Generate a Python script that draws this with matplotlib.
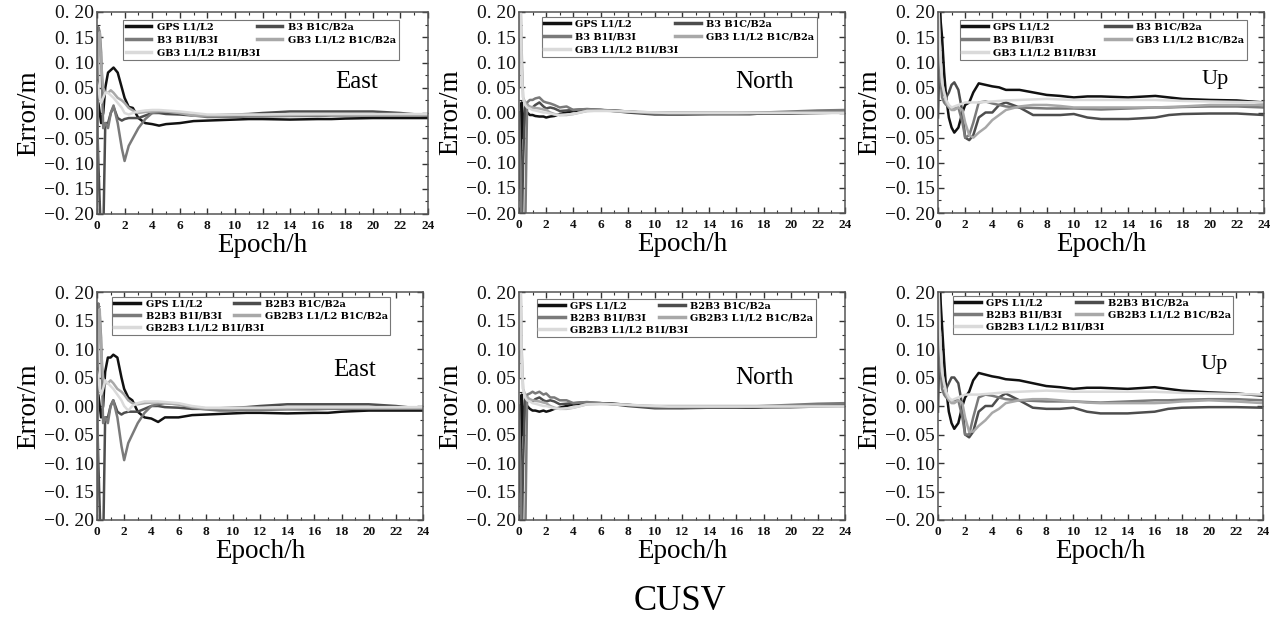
import matplotlib
matplotlib.use("Agg")
import matplotlib.pyplot as plt
from matplotlib.ticker import MultipleLocator, FixedLocator

# ---------------- data ----------------
T = [0, 0.1, 0.2, 0.3, 0.45, 0.6, 0.8, 1.0, 1.2, 1.5, 1.8, 2.0, 2.3, 2.6, 3.0, 3.5,
     4.0, 4.5, 5.0, 6.0, 7.0, 8.0, 9.0, 10, 11, 12, 14, 16, 17, 18, 20, 22, 24]

YTICKS = [-0.20, -0.15, -0.10, -0.05, 0.00, 0.05, 0.10, 0.15, 0.20]
YTICK_LABELS = ["\u22120. 20", "\u22120. 15", "\u22120. 10", "\u22120. 05", "0. 00",
                "0. 05", "0. 10", "0. 15", "0. 20"]
XTICKS = list(range(0, 25, 2))

LABELS_TOP = ["GPS L1/L2", "B3 B1C/B2a", "B3 B1I/B3I", "GB3 L1/L2 B1C/B2a", "GB3 L1/L2 B1I/B3I"]
LABELS_BOT = ["GPS L1/L2", "B2B3 B1C/B2a", "B2B3 B1I/B3I", "GB2B3 L1/L2 B1C/B2a", "GB2B3 L1/L2 B1I/B3I"]

# ---- top row: East ----
E1_GPS = [0.0, 0.02, 0.0, -0.02, 0.0, 0.05, 0.08, 0.085, 0.09, 0.08, 0.05, 0.03, 0.012, 0.01, -0.01, -0.02,
          -0.022, -0.025, -0.022, -0.02, -0.016, -0.015, -0.014, -0.013, -0.012, -0.012, -0.013, -0.012, -0.012, -0.011, -0.01, -0.01, -0.01]
E1_B1C = [0.0, -0.1, -0.18, -0.25, -0.25, -0.02, -0.02, 0.0, 0.012, -0.01, -0.015, -0.012, -0.01, -0.01, -0.01, -0.005,
          0.0, 0.0, -0.002, -0.003, -0.005, -0.005, -0.004, -0.003, -0.002, 0.0, 0.003, 0.003, 0.003, 0.003, 0.003, 0.0, -0.005]
E1_B1I = [-0.2, 0.17, 0.16, 0.12, -0.03, -0.02, -0.03, 0.0, 0.015, -0.02, -0.07, -0.095, -0.065, -0.05, -0.03, -0.012,
          0.0, 0.002, 0.003, 0.0, -0.005, -0.008, -0.008, -0.008, -0.007, -0.007, -0.006, -0.006, -0.005, -0.005, -0.005, -0.005, -0.005]
E1_GB1C = [0.07, 0.12, 0.16, 0.1, 0.05, 0.04, 0.04, 0.045, 0.04, 0.03, 0.025, 0.02, 0.01, 0.005, 0.0, 0.002,
           0.003, 0.004, 0.003, 0.0, -0.005, -0.005, -0.005, -0.004, -0.004, -0.004, -0.004, -0.003, -0.003, -0.003, -0.003, -0.003, -0.003]
E1_GB1I = [0.06, 0.05, 0.03, 0.02, 0.03, 0.04, 0.04, 0.035, 0.03, 0.02, 0.01, 0.0, -0.003, 0.0, 0.003, 0.005,
           0.006, 0.006, 0.005, 0.003, 0.0, -0.003, -0.003, -0.003, -0.003, -0.003, -0.002, -0.002, -0.002, -0.002, -0.002, -0.002, -0.002]

# ---- top row: North ----
N1_GPS = [0.0, -0.15, 0.02, -0.05, 0.01, 0.0, -0.005, -0.005, -0.007, -0.008, -0.008, -0.01, -0.008, -0.007, -0.003, 0.0,
          0.003, 0.004, 0.005, 0.005, 0.004, 0.002, 0.0, -0.002, -0.003, -0.003, -0.003, -0.003, -0.003, -0.002, -0.002, -0.001, 0.0]
N1_B1C = [0.0, -0.1, -0.25, -0.1, 0.02, 0.015, 0.01, 0.01, 0.015, 0.02, 0.012, 0.008, 0.01, 0.008, 0.003, 0.004,
          0.005, 0.006, 0.006, 0.005, 0.003, 0.0, -0.002, -0.004, -0.004, -0.004, -0.003, -0.003, -0.003, -0.002, -0.001, 0.001, 0.003]
N1_B1I = [0.0, -0.1, -0.25, -0.25, -0.25, 0.02, 0.025, 0.025, 0.028, 0.03, 0.022, 0.02, 0.018, 0.015, 0.01, 0.012,
          0.005, 0.006, 0.007, 0.005, 0.003, 0.002, 0.0, -0.002, -0.002, -0.002, -0.002, -0.002, -0.001, 0.0, 0.002, 0.004, 0.005]
N1_GB1C = [0.05, 0.25, 0.12, 0.03, 0.02, 0.015, 0.012, 0.01, 0.009, 0.008, 0.006, 0.005, 0.0, -0.003, -0.005, -0.005,
           -0.003, 0.0, 0.003, 0.004, 0.003, 0.002, 0.001, 0.0, 0.0, 0.0, 0.0, 0.0, 0.0, 0.0, 0.0, 0.0, 0.0]
N1_GB1I = [0.15, 0.25, 0.08, 0.03, 0.015, 0.01, 0.008, 0.005, 0.004, 0.002, 0.0, 0.0, -0.002, -0.004, -0.005, -0.004,
           -0.003, 0.0, 0.003, 0.003, 0.003, 0.002, 0.001, 0.0, -0.001, -0.001, -0.001, -0.001, -0.001, -0.001, -0.001, -0.001, -0.001]

# ---- top row: Up ----
U1_GPS = [0.1, 0.25, 0.18, 0.15, 0.08, 0.03, -0.01, -0.03, -0.04, -0.03, 0.0, 0.015, 0.02, 0.04, 0.058, 0.055,
          0.052, 0.05, 0.045, 0.045, 0.04, 0.035, 0.033, 0.03, 0.032, 0.032, 0.03, 0.033, 0.03, 0.027, 0.025, 0.024, 0.02]
U1_B1C = [-0.01, 0.1, 0.07, 0.05, 0.035, 0.03, 0.04, 0.055, 0.06, 0.045, 0.0, -0.05, -0.055, -0.045, -0.01, 0.0,
          0.0, 0.015, 0.02, 0.01, -0.005, -0.005, -0.005, -0.003, -0.01, -0.013, -0.013, -0.01, -0.005, -0.003, -0.002, -0.002, -0.005]
U1_B1I = [0.15, 0.1, 0.06, 0.03, 0.02, 0.015, 0.012, 0.01, 0.01, 0.01, -0.02, -0.05, -0.045, -0.02, 0.02, 0.022,
          0.018, 0.015, 0.012, 0.01, 0.009, 0.008, 0.008, 0.008, 0.007, 0.006, 0.008, 0.01, 0.01, 0.011, 0.012, 0.012, 0.01]
U1_GB1C = [0.25, 0.15, 0.1, 0.06, 0.04, 0.02, 0.01, 0.005, 0.005, 0.01, 0.005, -0.02, -0.045, -0.05, -0.04, -0.03,
           -0.015, -0.005, 0.005, 0.012, 0.015, 0.015, 0.013, 0.01, 0.01, 0.01, 0.01, 0.01, 0.011, 0.012, 0.015, 0.015, 0.015]
U1_GB1I = [0.25, 0.15, 0.1, 0.06, 0.04, 0.025, 0.015, 0.01, 0.012, 0.015, 0.018, 0.02, 0.02, 0.02, 0.02, 0.021,
           0.022, 0.023, 0.024, 0.025, 0.026, 0.027, 0.026, 0.025, 0.025, 0.025, 0.025, 0.025, 0.024, 0.023, 0.022, 0.021, 0.02]

# ---- bottom row: East ----
E2_GPS = [0.0, 0.02, 0.0, -0.02, 0.0, 0.06, 0.085, 0.085, 0.09, 0.085, 0.05, 0.03, 0.015, 0.01, -0.01, -0.02,
          -0.022, -0.028, -0.02, -0.02, -0.016, -0.015, -0.014, -0.013, -0.012, -0.012, -0.013, -0.012, -0.012, -0.01, -0.008, -0.008, -0.008]
E2_B1C = [0.0, -0.1, -0.18, -0.25, -0.25, -0.02, -0.02, 0.0, 0.01, -0.01, -0.015, -0.012, -0.01, -0.01, -0.01, -0.005,
          0.0, 0.0, -0.002, -0.003, -0.005, -0.005, -0.004, -0.003, -0.002, 0.0, 0.003, 0.003, 0.003, 0.003, 0.003, 0.0, -0.005]
E2_B1I = [-0.2, 0.18, 0.16, 0.12, -0.03, -0.02, -0.03, 0.0, 0.01, -0.02, -0.07, -0.095, -0.065, -0.05, -0.03, -0.012,
          0.0, 0.003, 0.005, 0.003, -0.003, -0.006, -0.008, -0.008, -0.007, -0.007, -0.006, -0.006, -0.005, -0.005, -0.005, -0.005, -0.005]
E2_GB1C = [0.07, 0.12, 0.17, 0.1, 0.05, 0.04, 0.04, 0.045, 0.04, 0.03, 0.025, 0.02, 0.01, 0.005, 0.003, 0.005,
           0.006, 0.006, 0.005, 0.003, -0.002, -0.004, -0.004, -0.004, -0.004, -0.004, -0.004, -0.003, -0.003, -0.003, -0.003, -0.003, -0.003]
E2_GB1I = [0.06, 0.05, 0.03, 0.02, 0.03, 0.045, 0.04, 0.035, 0.03, 0.02, 0.01, 0.0, -0.008, 0.0, 0.005, 0.008,
           0.008, 0.008, 0.007, 0.005, 0.0, -0.003, -0.003, -0.003, -0.003, -0.003, -0.002, -0.002, -0.002, -0.002, -0.002, -0.002, -0.002]

# ---- bottom row: North ----
N2_GPS = [0.0, -0.15, 0.02, -0.05, 0.01, 0.0, -0.005, -0.008, -0.008, -0.01, -0.008, -0.01, -0.008, -0.005, -0.003, 0.0,
          0.003, 0.004, 0.005, 0.005, 0.004, 0.002, 0.0, -0.002, -0.003, -0.003, -0.003, -0.003, -0.003, -0.002, -0.002, -0.001, 0.0]
N2_B1C = [0.0, -0.1, -0.25, -0.1, 0.02, 0.015, 0.01, 0.008, 0.012, 0.015, 0.01, 0.008, 0.01, 0.008, 0.003, 0.004,
          0.005, 0.006, 0.006, 0.005, 0.003, 0.0, -0.002, -0.004, -0.004, -0.004, -0.003, -0.003, -0.003, -0.002, -0.001, 0.001, 0.003]
N2_B1I = [0.0, -0.1, -0.25, -0.25, -0.25, 0.02, 0.022, 0.025, 0.022, 0.025, 0.02, 0.022, 0.015, 0.015, 0.01, 0.01,
          0.005, 0.006, 0.007, 0.005, 0.003, 0.002, 0.0, -0.002, -0.002, -0.002, -0.002, -0.002, -0.001, 0.0, 0.002, 0.004, 0.005]
N2_GB1C = [0.05, 0.25, 0.1, 0.03, 0.02, 0.015, 0.012, 0.01, 0.009, 0.008, 0.006, 0.005, 0.0, -0.003, -0.005, -0.005,
           -0.003, 0.0, 0.003, 0.004, 0.003, 0.002, 0.001, 0.0, 0.0, 0.0, 0.0, 0.0, 0.0, 0.0, 0.0, 0.0, 0.0]
N2_GB1I = [0.1, 0.25, 0.08, 0.03, 0.015, 0.01, 0.008, 0.005, 0.004, 0.002, 0.0, 0.0, -0.002, -0.004, -0.005, -0.004,
           -0.003, 0.0, 0.003, 0.003, 0.003, 0.002, 0.001, 0.0, -0.001, -0.001, -0.001, -0.001, -0.001, -0.001, -0.001, -0.001, -0.001]

# ---- bottom row: Up ----
U2_GPS = [0.1, 0.25, 0.18, 0.14, 0.08, 0.03, -0.01, -0.03, -0.04, -0.03, 0.0, 0.015, 0.025, 0.045, 0.058, 0.055,
          0.052, 0.05, 0.047, 0.045, 0.04, 0.035, 0.033, 0.03, 0.032, 0.032, 0.03, 0.033, 0.03, 0.027, 0.024, 0.022, 0.018]
U2_B1C = [-0.01, 0.1, 0.07, 0.05, 0.035, 0.03, 0.04, 0.05, 0.05, 0.04, 0.0, -0.05, -0.055, -0.045, -0.01, 0.0,
          0.0, 0.015, 0.022, 0.01, -0.003, -0.005, -0.005, -0.003, -0.01, -0.013, -0.013, -0.01, -0.005, -0.003, -0.002, -0.002, -0.003]
U2_B1I = [0.15, 0.1, 0.06, 0.03, 0.02, 0.015, 0.012, 0.01, 0.01, 0.01, -0.02, -0.05, -0.05, -0.02, 0.015, 0.02,
          0.018, 0.015, 0.012, 0.01, 0.009, 0.008, 0.008, 0.008, 0.007, 0.006, 0.008, 0.01, 0.01, 0.011, 0.012, 0.012, 0.01]
U2_GB1C = [0.25, 0.15, 0.1, 0.06, 0.04, 0.02, 0.01, 0.005, 0.005, 0.01, 0.005, -0.02, -0.045, -0.045, -0.035, -0.025,
           -0.012, -0.005, 0.005, 0.01, 0.012, 0.012, 0.01, 0.008, 0.006, 0.005, 0.005, 0.005, 0.006, 0.008, 0.01, 0.008, 0.005]
U2_GB1I = [0.25, 0.15, 0.1, 0.06, 0.04, 0.025, 0.015, 0.01, 0.012, 0.015, 0.018, 0.02, 0.02, 0.02, 0.02, 0.021,
           0.022, 0.023, 0.024, 0.025, 0.026, 0.027, 0.026, 0.025, 0.025, 0.025, 0.025, 0.025, 0.024, 0.023, 0.022, 0.021, 0.02]

COLORS = ["#111111", "#4d4d4d", "#7a7a7a", "#a8a8a8", "#dadada"]

# ---------------- figure ----------------
plt.rcParams["font.family"] = ["Liberation Serif", "DejaVu Serif"]
fig = plt.figure(figsize=(12.77, 6.21), dpi=100)
W, H = 1277.0, 621.0

panels = [
    ((97, 12, 428, 214), [E1_GPS, E1_B1C, E1_B1I, E1_GB1C, E1_GB1I], LABELS_TOP, "East", (18.8, 0.062), 18,
     (0.079, 0.762, 0.833), 0.42),
    ((519, 12, 845, 213), [N1_GPS, N1_B1C, N1_B1I, N1_GB1C, N1_GB1I], LABELS_TOP, "North", (18.1, 0.06), 18,
     (0.07, 0.776, 0.844), 0.42),
    ((938, 12, 1264, 213), [U1_GPS, U1_B1C, U1_B1I, U1_GB1C, U1_GB1I], LABELS_TOP, "Up", (20.4, 0.065), 16,
     (0.067, 0.761, 0.881), 0.42),
    ((97, 292, 423, 520), [E2_GPS, E2_B1C, E2_B1I, E2_GB1C, E2_GB1I], LABELS_BOT, "East", (19.0, 0.063), 18,
     (0.046, 0.811, 0.854), 0.3),
    ((519, 292, 845, 520), [N2_GPS, N2_B1C, N2_B1I, N2_GB1C, N2_GB1I], LABELS_BOT, "North", (18.1, 0.05), 18,
     (0.055, 0.803, 0.856), 0.3),
    ((938, 292, 1263, 520), [U2_GPS, U2_B1C, U2_B1I, U2_GB1C, U2_GB1I], LABELS_BOT, "Up", (20.4, 0.072), 16,
     (0.046, 0.816, 0.862), 0.3),
]

for (l, t, r, b), series, labels, title, tpos, tsize, lbox, lspace in panels:
    ax = fig.add_axes([l / W, 1 - b / H, (r - l) / W, (b - t) / H])
    handles = []
    for vals, col, lab in zip(series, COLORS, labels):
        h, = ax.plot(T, vals, color=col, lw=1.8, label=lab, solid_joinstyle="round")
        handles.append(h)
    ax.set_xlim(0, 24)
    ax.set_ylim(-0.2, 0.2)
    ax.xaxis.set_major_locator(FixedLocator(XTICKS))
    ax.xaxis.set_minor_locator(MultipleLocator(1))
    ax.set_yticks(YTICKS)
    ax.set_yticklabels(YTICK_LABELS)
    ax.yaxis.set_minor_locator(MultipleLocator(0.025))
    ax.tick_params(which="both", direction="in", top=True, right=True, colors="#333333")
    ax.tick_params(which="major", length=4, width=1)
    ax.tick_params(which="minor", length=2.5, width=0.8)
    for lab in ax.get_xticklabels():
        lab.set_fontweight("bold")
        lab.set_fontsize(9.5)
        lab.set_color("#111111")
    for lab in ax.get_yticklabels():
        lab.set_fontsize(14)
        lab.set_color("#111111")
    ax.tick_params(axis="x", pad=4)
    ax.tick_params(axis="y", pad=2)
    for sp in ax.spines.values():
        sp.set_color("#555555")
        sp.set_linewidth(1.1)
    ax.set_xlabel("Epoch/h", fontsize=19.5, labelpad=1)
    ax.set_ylabel("Error/m", fontsize=19.5, labelpad=2)
    ax.text(tpos[0], tpos[1], title, fontsize=tsize, ha="center", va="center")
    order = [0, 2, 4, 1, 3]
    leg = ax.legend([handles[i] for i in order], [labels[i] for i in order],
                    ncol=2, loc="lower left", bbox_to_anchor=(lbox[0], lbox[1], lbox[2], 0.15),
                    mode="expand", fancybox=False, framealpha=1, edgecolor="#777777",
                    prop={"weight": "bold", "size": 7, "family": ["DejaVu Serif"]},
                    handlelength=2.6, handletextpad=0.6,
                    borderpad=0.25, labelspacing=lspace, columnspacing=1.0, borderaxespad=0)
    leg.get_frame().set_linewidth(0.8)
    for lh in leg.get_lines():
        lh.set_linewidth(2.5)

fig.text(680 / W, 1 - 602 / H, "CUSV", fontsize=25, ha="center", va="center")

fig.savefig("out.png", dpi=100)
